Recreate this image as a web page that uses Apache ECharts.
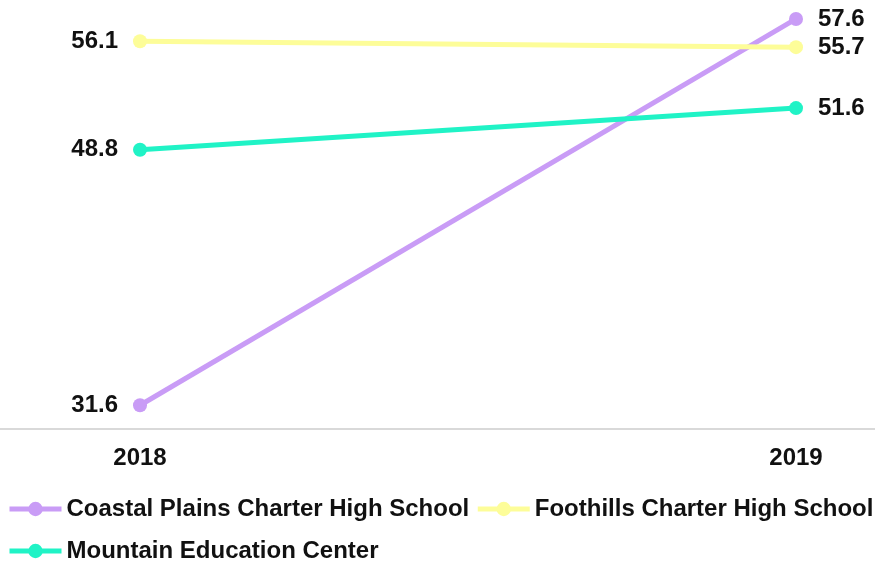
<!DOCTYPE html>
<html><head><meta charset="utf-8">
<script src="https://cdn.jsdelivr.net/npm/echarts@6/dist/echarts.min.js"></script>
<style>html,body{margin:0;padding:0;background:#fff}#c{width:875px;height:566px}</style>
</head><body><div id="c"></div>
<script>
const years = [2018, 2019];
const seriesNames = ['Coastal Plains Charter High School', 'Foothills Charter High School', 'Mountain Education Center'];
const coastal = [31.6, 57.6];
const foothills = [56.1, 55.7];
const mountain = [48.8, 51.6];
const colors = ['#c99cf6', '#fdfd99', '#20f3c6'];

const chart = echarts.init(document.getElementById('c'));
const W = 875, leftPx = 140, rightPx = 796;
const per = (years[1] - years[0]) / (rightPx - leftPx);
const xMin = years[0] - leftPx * per;
const xMax = years[1] + (W - rightPx) * per;
const vals = [coastal, foothills, mountain];
const font = '"Liberation Sans", Arial, sans-serif';
const FS = 24;
const legendBase = {
  left: 7, width: 1200, itemWidth: 52, itemHeight: 18, itemGap: 6, padding: 0,
  lineStyle: {width: 5},
  textStyle: {color: '#111', fontWeight: 'bold', fontSize: FS, fontFamily: font, lineHeight: 30}
};
chart.setOption({
  animation: false,
  grid: {left: 0, right: 0, top: 13, bottom: 137},
  xAxis: {
    type: 'value', min: xMin, max: xMax,
    splitLine: {show: false},
    axisTick: {show: false},
    axisLine: {show: true, lineStyle: {color: '#d9d9d9', width: 2}},
    axisLabel: {customValues: years, formatter: v => String(Math.round(v)), margin: 17,
      color: '#111', fontWeight: 'bold', fontSize: FS, fontFamily: font}
  },
  yAxis: {type: 'value', min: 30, max: 58, show: false, splitLine: {show: false}},
  legend: [
    Object.assign({top: 494, data: seriesNames.slice(0, 2)}, legendBase),
    Object.assign({top: 536, data: seriesNames.slice(2)}, legendBase)
  ],
  series: seriesNames.map((n, i) => ({
    name: n, type: 'line',
    data: years.map((y, j) => ({value: [y, vals[i][j]], label: {position: j === 0 ? 'left' : 'right'}})),
    color: colors[i],
    lineStyle: {width: 5},
    symbol: 'circle', symbolSize: 14,
    label: {
      show: true, fontWeight: 'bold', fontSize: FS, fontFamily: font, color: '#111', distance: 15,
      formatter: p => p.value[1].toFixed(1)
    }
  }))
});
</script></body></html>
